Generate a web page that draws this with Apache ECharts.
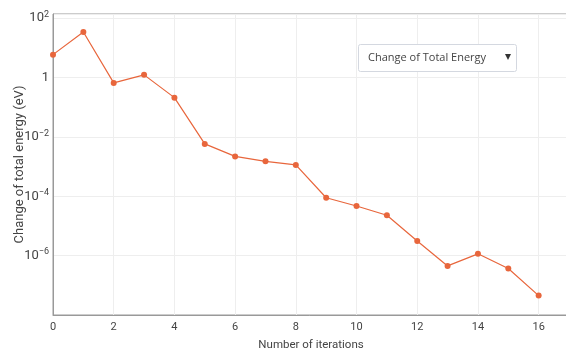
<!DOCTYPE html>
<html>
<head>
<meta charset="utf-8">
<script src="https://cdn.jsdelivr.net/npm/echarts@6/dist/echarts.min.js"></script>
<style>
html,body{margin:0;padding:0;background:#fff;}
#chart{width:566px;height:350px;}
</style>
</head>
<body>
<div id="chart"></div>
<script>
const iterations = [0,1,2,3,4,5,6,7,8,9,10,11,12,13,14,15,16];
const energyChange = [5.9, 34, 0.66, 1.23, 0.21, 0.0058, 0.0022, 0.0015, 0.00114, 8.9e-5, 4.7e-5, 2.3e-5, 3.1e-6, 4.5e-7, 1.15e-6, 3.7e-7, 4.5e-8];
const xTicks = [0,2,4,6,8,10,12,14,16];
const yTickExponents = [2,0,-2,-4,-6];
const seriesName = 'Change of Total Energy';

const chart = echarts.init(document.getElementById('chart'), null, {renderer:'canvas'});
const points = iterations.map((x,i)=>[x, Math.log10(energyChange[i])]);
const C = '#444';
chart.setOption({
  animation:false,
  grid:{left:53, top:14, width:516, height:301, outerBoundsMode:'none', containLabel:false,
        show:true, borderColor:'#999', borderWidth:1, backgroundColor:'transparent'},
  xAxis:{
    type:'value', min:0, max:17, interval:2,
    name:'Number of iterations', nameLocation:'middle', nameGap:24, nameMoveOverlap:false,
    nameTextStyle:{fontFamily:'Roboto', fontSize:11.5, color:C},
    axisLine:{show:true, onZero:false, lineStyle:{color:'#999', width:1}},
    axisTick:{show:false},
    axisLabel:{fontFamily:'Roboto', fontSize:11, color:C, margin:7,
      formatter:v=> xTicks.includes(v) ? String(v) : ''},
    splitLine:{show:true, lineStyle:{color:'#eeeeee', width:1}}
  },
  yAxis:{
    type:'value', min:-8, max:2.14, interval:2,
    name:'Change of total energy (eV)', nameLocation:'middle', nameGap:27, nameMoveOverlap:false,
    nameTextStyle:{fontFamily:'Roboto', fontSize:13, color:C},
    axisLine:{show:true, onZero:false, lineStyle:{color:'#999', width:1}},
    axisTick:{show:false},
    axisLabel:{fontFamily:'Roboto', fontSize:13, color:C, margin:4,
      formatter:v=>{
        if(!yTickExponents.includes(v)) return '';
        if(v===0) return '1';
        return '10{sup|' + (v<0 ? '\u2212'+(-v) : v) + '}';
      },
      rich:{sup:{fontFamily:'Roboto', fontSize:9, color:C, padding:[0,0,7,0]}}
    },
    splitLine:{show:true, lineStyle:{color:'#eeeeee', width:1}}
  },
  series:[{
    name:seriesName, type:'line', data:points,
    symbol:'circle', symbolSize:6,
    lineStyle:{color:'#e8663c', width:1.2},
    itemStyle:{color:'#e8663c'}
  }],
  graphic:[
    {type:'rect', shape:{x:358.5, y:44.5, width:158, height:27, r:2},
     style:{fill:'#fff', stroke:'#d4d8e0', lineWidth:1}, z:100},
    {type:'text', x:368, y:58, style:{text:seriesName, fontFamily:'Open Sans', fontSize:11, fill:C, verticalAlign:'middle'}, z:101},
    {type:'polygon', shape:{points:[[505,54],[511,54],[508,60]]}, style:{fill:'#333'}, z:101}
  ]
});
</script>
</body>
</html>
